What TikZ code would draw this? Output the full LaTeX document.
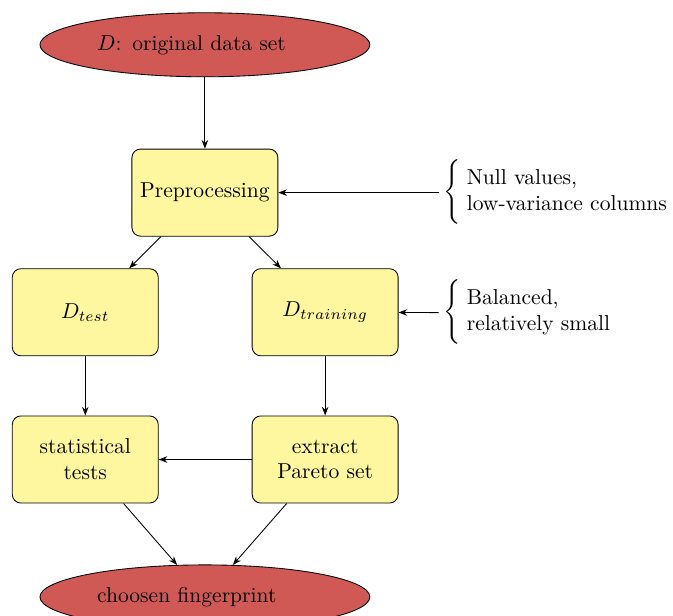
\documentclass[tikz,border=0pt]{standalone}
\usetikzlibrary{shapes.geometric,arrows.meta}

\definecolor{datared}{RGB}{209,89,85}
\definecolor{stepyellow}{RGB}{255,246,160}

\tikzset{
  dataset/.style={ellipse, draw, fill=datared, minimum width=153pt, minimum height=29.7pt,
    text width=100pt, align=left, inner sep=0pt},
  stepbox/.style={rectangle, draw, rounded corners=4pt, fill=stepyellow,
    minimum width=67.7pt, minimum height=40.4pt, align=center, inner sep=2pt},
  note/.style={anchor=west, inner sep=0pt},
  flow/.style={-{Stealth[length=4pt,width=3pt]}, line width=0.4pt}
}

\begin{document}
\begin{tikzpicture}

  \useasboundingbox (0,0) rectangle (10.97,-10.03);

  % data sets
  \node[dataset] (data) at (3.34,-0.73) {$D$: original data set};
  \node[dataset] (print) at (3.34,-9.73) {choosen fingerprint};

  % processing steps
  \node[stepbox] (prep) at (3.34,-3.14) {Preprocessing};
  \node[stepbox] (test) at (1.39,-5.09) {$D_{test}$};
  \node[stepbox] (train) at (5.30,-5.09) {$D_{training}$};
  \node[stepbox] (stat) at (1.39,-7.49) {statistical\\tests};
  \node[stepbox] (pareto) at (5.30,-7.49) {extract\\Pareto set};

  % side notes
  \node[note] (nullnote) at (7.15,-3.14)
    {$\hspace{2pt}\left\{\rule[-13pt]{0pt}{26pt}\begin{tabular}{@{\hspace{2.8pt}}l}Null values,\\low-variance columns\end{tabular}\right.$};
  \node[note] (balnote) at (7.15,-5.10)
    {$\hspace{2pt}\left\{\rule[-13pt]{0pt}{26pt}\begin{tabular}{@{\hspace{2.8pt}}l}Balanced,\\relatively small\end{tabular}\right.$};

  % connectors
  \draw[flow] (data) -- (prep);
  \draw[flow] (prep) -- (test);
  \draw[flow] (prep) -- (train);
  \draw[flow] (test) -- (stat);
  \draw[flow] (train) -- (pareto);
  \draw[flow] (pareto) -- (stat);
  \draw[flow] (stat) -- (print);
  \draw[flow] (pareto) -- (print);
  \draw[flow] (nullnote) -- (prep);
  \draw[flow] (balnote) -- (train);

\end{tikzpicture}
\end{document}
